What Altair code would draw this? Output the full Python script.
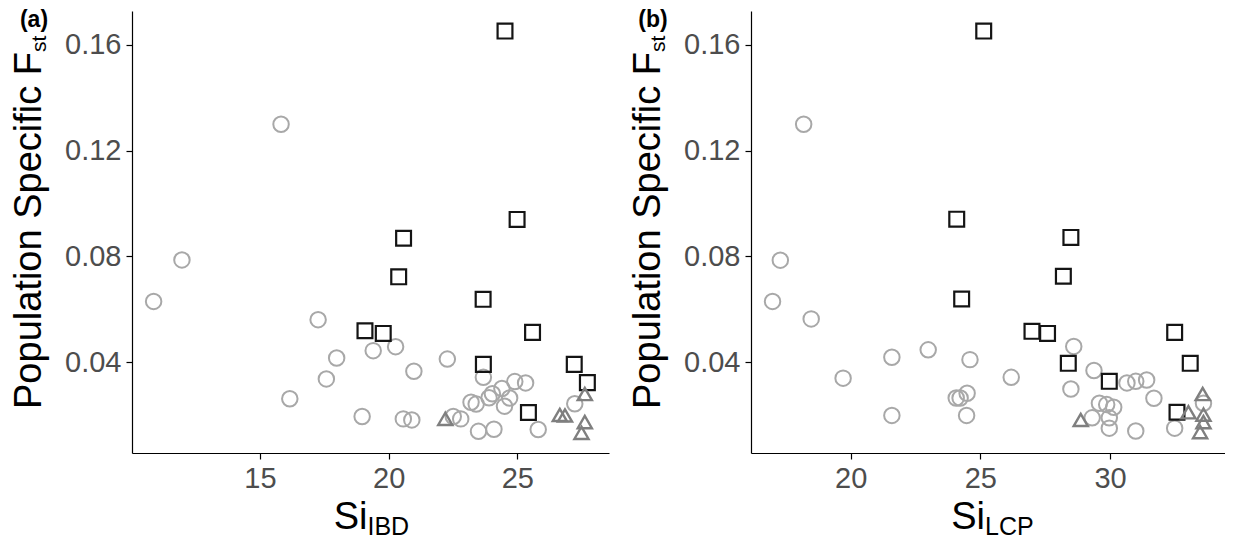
import altair as alt
import pandas as pd

# ---------------- data ----------------
# Panel (a): Si_IBD
ibd_circle_x = [10.87, 11.97, 15.82, 16.16, 17.26, 17.58, 17.98, 18.97, 19.40, 20.27,
                20.57, 20.90, 20.98, 22.28, 22.51, 22.80, 23.20, 23.40, 23.49, 23.68,
                23.90, 24.03, 24.09, 24.40, 24.50, 24.70, 24.90, 25.32, 25.81, 27.23]
ibd_circle_y = [0.0630, 0.0787, 0.1300, 0.0262, 0.0561, 0.0337, 0.0416, 0.0195, 0.0444, 0.0459,
                0.0186, 0.0182, 0.0366, 0.0412, 0.0195, 0.0186, 0.0249, 0.0242, 0.0139, 0.0343,
                0.0266, 0.0281, 0.0147, 0.0301, 0.0234, 0.0265, 0.0327, 0.0322, 0.0146, 0.0243]
ibd_square_x = [24.52, 24.99, 20.58, 20.39, 23.67, 19.08, 19.79, 25.59, 23.68, 27.21, 27.72, 25.43]
ibd_square_y = [0.1652, 0.0940, 0.0869, 0.0723, 0.0638, 0.0519, 0.0509, 0.0513, 0.0392, 0.0392, 0.0323, 0.0210]
ibd_triangle_x = [22.20, 26.65, 26.85, 27.62, 27.62, 27.49]
ibd_triangle_y = [0.0186, 0.0201, 0.0199, 0.0280, 0.0174, 0.0133]

# Panel (b): Si_LCP
lcp_circle_x = [16.99, 17.29, 18.19, 18.48, 19.71, 21.59, 21.59, 22.99, 24.07, 24.22,
                24.49, 24.47, 24.60, 26.19, 28.60, 28.49, 29.38, 29.31, 29.59, 29.87,
                30.14, 29.97, 29.97, 30.65, 30.99, 31.41, 31.69, 30.99, 32.49, 33.60]
lcp_circle_y = [0.0630, 0.0786, 0.1300, 0.0564, 0.0340, 0.0419, 0.0199, 0.0447, 0.0265, 0.0265,
                0.0283, 0.0199, 0.0410, 0.0343, 0.0460, 0.0299, 0.0369, 0.0190, 0.0245, 0.0240,
                0.0230, 0.0190, 0.0151, 0.0322, 0.0328, 0.0333, 0.0264, 0.0140, 0.0151, 0.0245]
lcp_square_x = [25.13, 24.09, 28.49, 28.20, 24.28, 26.99, 27.59, 32.49, 28.39, 33.09, 29.97, 32.58]
lcp_square_y = [0.1652, 0.0941, 0.0872, 0.0725, 0.0639, 0.0517, 0.0509, 0.0513, 0.0396, 0.0396, 0.0328, 0.0211]
lcp_triangle_x = [28.87, 33.02, 33.57, 33.60, 33.60, 33.47]
lcp_triangle_y = [0.0182, 0.0211, 0.0280, 0.0202, 0.0174, 0.0136]

groups = ["circle", "square", "triangle"]
y_ticks = [0.04, 0.08, 0.12, 0.16]
ibd_ticks = [15, 20, 25]
lcp_ticks = [20, 25, 30]

FONT = "Liberation Sans"


def make_df(cx, cy, sx, sy, tx, ty):
    rows = []
    for g, xs, ys in zip(groups, [cx, sx, tx], [cy, sy, ty]):
        for x, y in zip(xs, ys):
            rows.append({"si": x, "fst": y, "grp": g})
    return pd.DataFrame(rows)


def text_layer(txt, x, y, size, angle=0, align="left", bold=False, color="black"):
    return alt.Chart(pd.DataFrame({"t": [txt]})).mark_text(
        font=FONT, fontSize=size, angle=angle, align=align, baseline="alphabetic",
        fontWeight="bold" if bold else "normal", color=color
    ).encode(text="t:N", x=alt.value(x), y=alt.value(y))


def panel(df, xdom, xticks, width, height, tag, sub):
    pts = alt.Chart(df).mark_point(filled=False, opacity=1).encode(
        x=alt.X("si:Q", scale=alt.Scale(domain=xdom, nice=False, zero=False),
                axis=alt.Axis(values=xticks, title=None, labelFlush=False, format="d")),
        y=alt.Y("fst:Q", scale=alt.Scale(domain=[0.0057, 0.1728], nice=False, zero=False),
                axis=alt.Axis(values=y_ticks, format=".2f", title=None, labelFlush=False)),
        shape=alt.Shape("grp:N", scale=alt.Scale(domain=groups, range=["circle", "square", "triangle-up"]), legend=None),
        stroke=alt.Stroke("grp:N", scale=alt.Scale(domain=groups, range=["#A8A8A8", "#141414", "#7F7F7F"]), legend=None),
        size=alt.Size("grp:N", scale=alt.Scale(domain=groups, range=[240, 200, 340]), legend=None),
        strokeWidth=alt.StrokeWidth("grp:N", scale=alt.Scale(domain=groups, range=[2.0, 2.4, 2.3]), legend=None),
    )
    jx = width / 2 - 3
    layers = [
        pts,
        text_layer("Population Specific F", -91, 41, 38, angle=270, align="right"),
        text_layer("st", -86, 41, 21, angle=270, align="left"),
        text_layer("Si", jx, height + 76, 38, align="right"),
        text_layer(sub, jx, height + 82, 25, align="left"),
        text_layer(tag, -98, 16, 23, align="center", bold=True),
    ]
    return alt.layer(*layers).properties(width=width, height=height)


df_a = make_df(ibd_circle_x, ibd_circle_y, ibd_square_x, ibd_square_y, ibd_triangle_x, ibd_triangle_y)
df_b = make_df(lcp_circle_x, lcp_circle_y, lcp_square_x, lcp_square_y, lcp_triangle_x, lcp_triangle_y)

pa = panel(df_a, [10.03, 28.56], ibd_ticks, 477, 442, "(a)", "IBD")
pb = panel(df_b, [16.16, 34.43], lcp_ticks, 474, 442, "(b)", "LCP")

chart = alt.hconcat(pa, pb, spacing=21).properties(
    padding={"left": 3, "top": 1, "right": 0, "bottom": 0}, background="white"
).configure_view(stroke=None).configure_axis(
    grid=False, domainColor="black", domainWidth=1.2, tickColor="black", tickWidth=1.2,
    tickSize=6, labelPadding=5, labelFontSize=29, labelColor="#4D4D4D", labelFont=FONT,
)

chart.save("out.html", embed_options={"renderer": "svg", "actions": False})
